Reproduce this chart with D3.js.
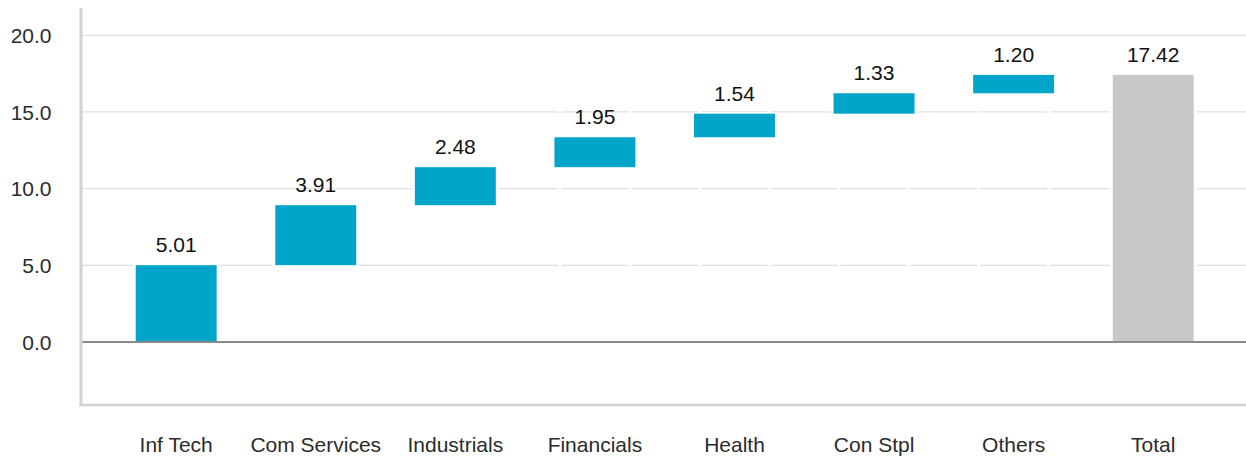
<!DOCTYPE html>
<html>
<head>
<meta charset="utf-8">
<script src="https://cdn.jsdelivr.net/npm/d3@7"></script>
<style>
  html, body { margin: 0; padding: 0; background: #fff; }
  svg { display: block; font-family: "Liberation Sans", Arial, sans-serif; }
</style>
</head>
<body>
<svg id="chart" width="1246" height="457"></svg>
<script>
const categories = ["Inf Tech", "Com Services", "Industrials", "Financials", "Health", "Con Stpl", "Others", "Total"];
const values = [5.01, 3.91, 2.48, 1.95, 1.54, 1.33, 1.20, 17.42];
const isTotal = [false, false, false, false, false, false, false, true];
const labels = ["5.01", "3.91", "2.48", "1.95", "1.54", "1.33", "1.20", "17.42"];
const yTicks = [0, 5, 10, 15, 20];
const segmentedCats = ["Financials", "Health", "Con Stpl", "Others"];

(function () {
// waterfall start/end
let running = 0;
const bars = categories.map((c, i) => {
  let start, end;
  if (isTotal[i]) { start = 0; end = values[i]; }
  else { start = running; end = running + values[i]; running = end; }
  return { cat: c, start, end, label: labels[i], total: isTotal[i] };
});

const svg = d3.select("#chart");
const pLeft = 80, pRight = 1246, pTop = 8, pBottom = 405;

const y = d3.scaleLinear().domain([-4.108, 21.78]).range([pBottom, pTop]);
const x = d3.scaleBand().domain(categories).range([81.7, 1247.7])
  .paddingInner(0.42).paddingOuter(0.387);
const step = x.step();

// gridlines (segmented)
const gridG = svg.append("g");
yTicks.filter(t => t !== 0).forEach(t => {
  const yy = y(t);
  let cuts = [];
  if (t !== 20) {
    segmentedCats.forEach(c => {
      const cx = x(c) + x.bandwidth() / 2;
      cuts.push(cx - step / 4, cx + step / 4);
    });
  }
  cuts.sort((a, b) => a - b);
  let xs = pLeft + 2;
  cuts.forEach(cx => {
    gridG.append("line").attr("x1", xs).attr("x2", cx - 1.5).attr("y1", yy).attr("y2", yy)
      .attr("stroke", "#e0e0e0").attr("stroke-width", 1.3);
    xs = cx + 1.5;
  });
  gridG.append("line").attr("x1", xs).attr("x2", pRight).attr("y1", yy).attr("y2", yy)
    .attr("stroke", "#e0e0e0").attr("stroke-width", 1.3);
});

// white margins around bars (cut gridlines next to bars)
svg.append("g").selectAll("rect").data(bars).join("rect")
  .attr("x", d => x(d.cat) - 3)
  .attr("width", x.bandwidth() + 6)
  .attr("y", d => y(Math.max(d.start, d.end)) - 1.5)
  .attr("height", d => Math.abs(y(d.start) - y(d.end)) + 3)
  .attr("fill", "#fff");

// bars
svg.append("g").selectAll("rect").data(bars).join("rect")
  .attr("x", d => x(d.cat))
  .attr("width", x.bandwidth())
  .attr("y", d => y(Math.max(d.start, d.end)))
  .attr("height", d => Math.abs(y(d.start) - y(d.end)))
  .attr("fill", d => d.total ? "#c8c8c6" : "#00a5c9");

// zero line
svg.append("line").attr("x1", pLeft + 2).attr("x2", pRight).attr("y1", y(0)).attr("y2", y(0))
  .attr("stroke", "#8a8a8a").attr("stroke-width", 2);

// axis frame lines
svg.append("line").attr("x1", 81).attr("x2", 81).attr("y1", pTop).attr("y2", pBottom + 1)
  .attr("stroke", "#d2d2d2").attr("stroke-width", 3);
svg.append("line").attr("x1", 79.5).attr("x2", pRight).attr("y1", pBottom).attr("y2", pBottom)
  .attr("stroke", "#d2d2d2").attr("stroke-width", 2.6);

// y tick labels
svg.append("g").selectAll("text").data(yTicks).join("text")
  .attr("x", 51.5).attr("y", d => y(d)).attr("dy", "0.36em")
  .attr("text-anchor", "end").attr("font-size", 21).attr("fill", "#2b2b2b")
  .text(d => d3.format(".1f")(d));

// category labels
svg.append("g").selectAll("text").data(categories).join("text")
  .attr("x", d => x(d) + x.bandwidth() / 2).attr("y", 452)
  .attr("text-anchor", "middle").attr("font-size", 21).attr("fill", "#2b2b2b")
  .text(d => d);

// value labels
svg.append("g").selectAll("text").data(bars).join("text")
  .attr("x", d => x(d.cat) + x.bandwidth() / 2)
  .attr("y", d => y(Math.max(d.start, d.end)) - 13)
  .attr("text-anchor", "middle").attr("font-size", 21).attr("fill", "#111")
  .text(d => d.label);
})();
</script>
</body>
</html>
